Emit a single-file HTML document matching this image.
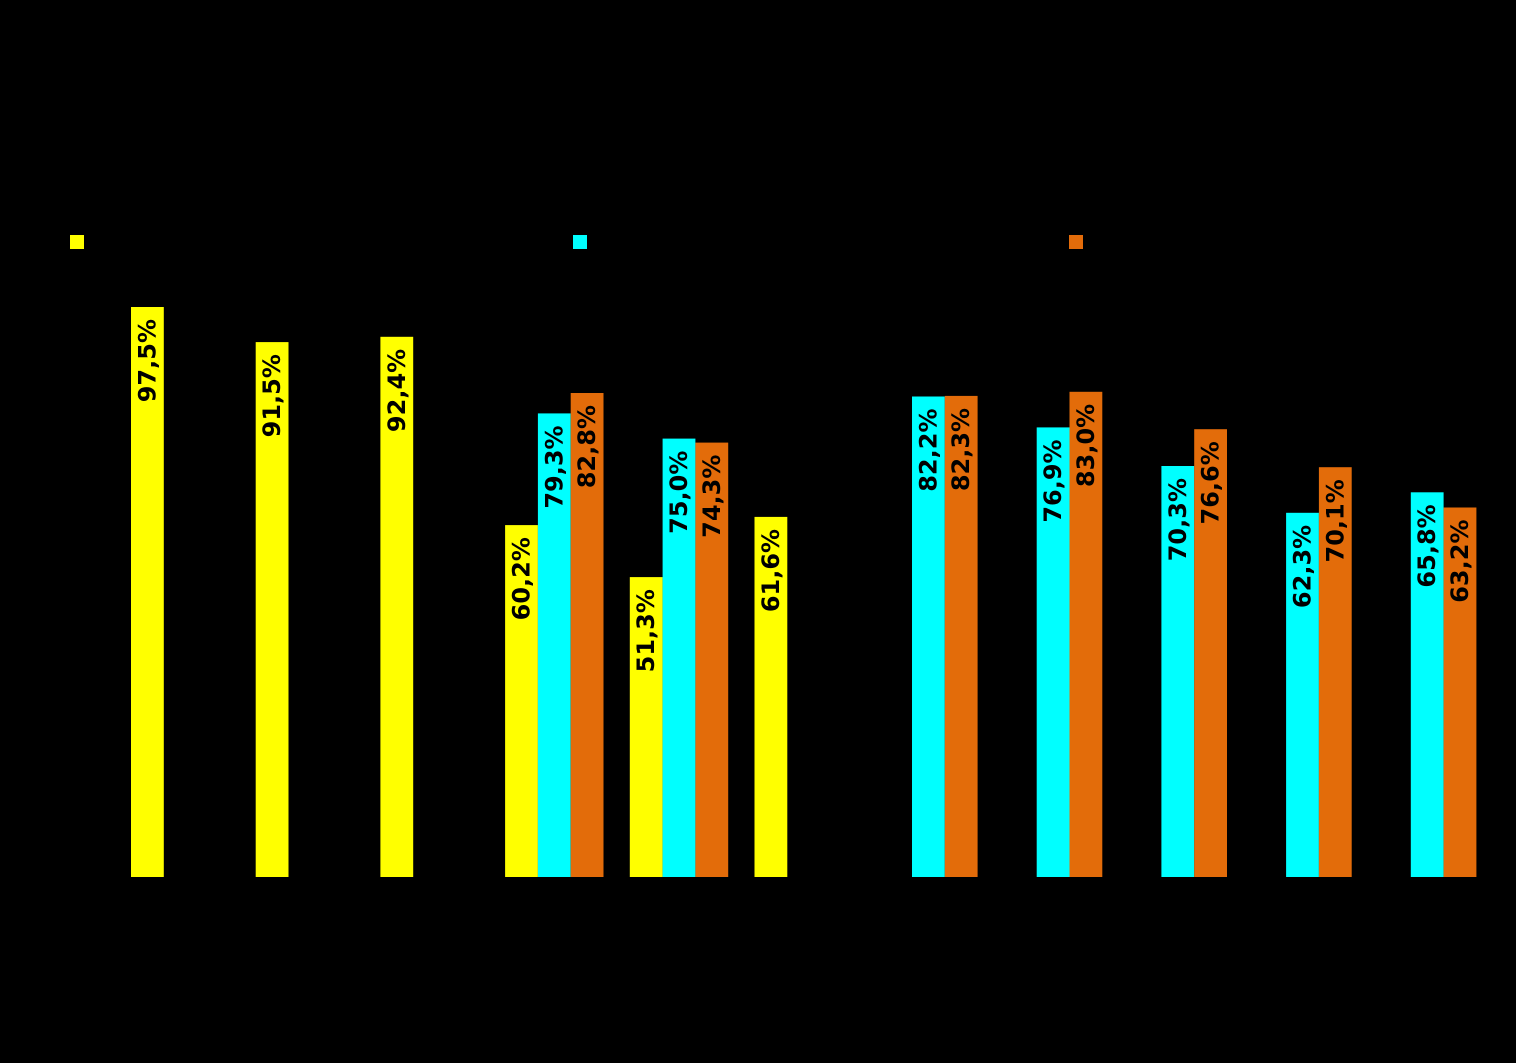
<!DOCTYPE html>
<html><head><meta charset="utf-8"><style>
html,body{margin:0;padding:0;background:#000;}
svg{display:block;}
</style></head><body>
<svg id="chart" width="1516" height="1063" xmlns="http://www.w3.org/2000/svg">
<rect x="0" y="0" width="1516" height="1063" fill="#000"/>
<g id="legend">
<rect x="70" y="235" width="14" height="14" fill="#ffff00"/>
<rect x="573" y="235" width="14" height="14" fill="#00ffff"/>
<rect x="1069" y="235" width="14" height="14" fill="#e36c0a"/>
</g>
<g id="bars"></g>
</svg>
<script>
const categories = ["g1","g2","g3","g4","g5","g6","g7","g8","g9","g10","g11"];
const seriesYellow = [97.5, 91.5, 92.4, 60.2, 51.3, 61.6, null, null, null, null, null];
const seriesCyan = [null, null, null, 79.3, 75.0, null, 82.2, 76.9, 70.3, 62.3, 65.8];
const seriesOrange = [null, null, null, 82.8, 74.3, null, 82.3, 83.0, 76.6, 70.1, 63.2];
const seriesColors = ["#ffff00","#00ffff","#e36c0a"];
const seriesNames = ["yellow","cyan","orange"];

const baseY = 877, pxPer = 5.846;
const x0 = 131, pitch = 124.7, slot = 32.8;
function yScale(v){ return baseY - v*pxPer; }
function xScale(i, s){ return x0 + i*pitch + s*slot; }

const g = document.getElementById('bars');
const NS = "http://www.w3.org/2000/svg";
[seriesYellow, seriesCyan, seriesOrange].forEach((arr, s) => {
  arr.forEach((v, i) => {
    if (v === null || v === undefined) return;
    const x = xScale(i, s), y = yScale(v);
    const r = document.createElementNS(NS, 'rect');
    
    
    r.setAttribute('x', x.toFixed(1));
    r.setAttribute('y', y.toFixed(1));
    r.setAttribute('width', slot.toFixed(1));
    r.setAttribute('height', (baseY - y).toFixed(1));
    r.setAttribute('fill', seriesColors[s]);
    g.appendChild(r);
    const t = document.createElementNS(NS, 'text');
    
    
    const cx = x + slot/2 + 8, ty = y + 12;
    t.setAttribute('transform', 'translate(' + cx.toFixed(1) + ',' + ty.toFixed(1) + ') rotate(-90)');
    t.setAttribute('text-anchor', 'end');
    t.setAttribute('font-family', '"DejaVu Sans", "Liberation Sans", sans-serif');
    t.setAttribute('font-weight', 'bold');
    t.setAttribute('font-size', '24');
    t.setAttribute('fill', '#000');
    t.textContent = v.toFixed(1).replace('.', ',') + '%';
    g.appendChild(t);
  });
});
</script>
</body></html>
